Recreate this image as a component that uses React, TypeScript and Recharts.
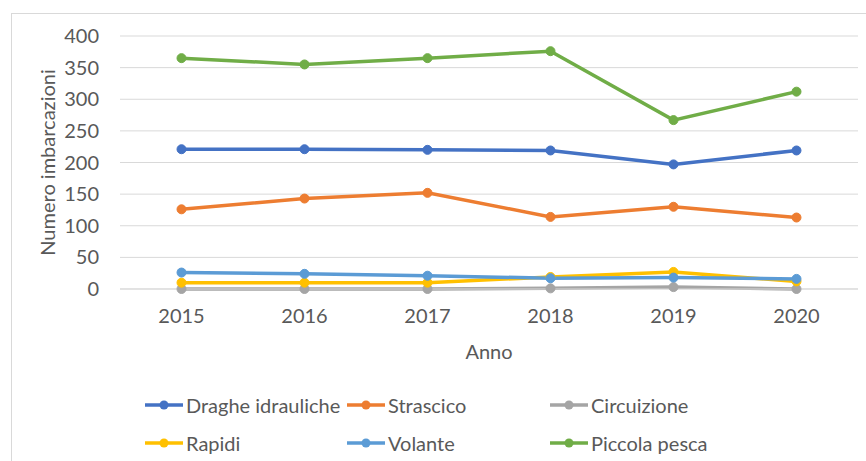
import { LineChart, Line, XAxis, YAxis, CartesianGrid } from "recharts";

const years = ["2015", "2016", "2017", "2018", "2019", "2020"];
const dragheIdrauliche = [221, 221, 220, 219, 197, 219];
const strascico = [126, 143, 152, 114, 130, 113];
const circuizione = [0, 0, 0, 1, 3, 0];
const rapidi = [10, 10, 10, 19, 27, 12];
const volante = [26, 24, 21, 17, 18, 16];
const piccolaPesca = [365, 355, 365, 376, 267, 312];
const yTicks = [0, 50, 100, 150, 200, 250, 300, 350, 400];

const series = [
  { key: "Draghe idrauliche", values: dragheIdrauliche, color: "#4472C4" },
  { key: "Strascico", values: strascico, color: "#ED7D31" },
  { key: "Circuizione", values: circuizione, color: "#A5A5A5" },
  { key: "Rapidi", values: rapidi, color: "#FFC000" },
  { key: "Volante", values: volante, color: "#5B9BD5" },
  { key: "Piccola pesca", values: piccolaPesca, color: "#70AD47" },
];

const data = years.map((year, i) => {
  const row: Record<string, string | number> = { year };
  series.forEach((s) => {
    row[s.key] = s.values[i];
  });
  return row;
});

const FONT = "Lato, 'Open Sans', sans-serif";
const TEXT = "#595959";
const FS = 20;

function LegendBox() {
  return (
    <div
      style={{
        position: "absolute",
        left: 145,
        top: 391,
        display: "grid",
        gridTemplateColumns: "202px 203px 220px",
        rowGap: 11,
        fontFamily: FONT,
        fontSize: FS,
        color: TEXT,
      }}
    >
      {series.map((s) => (
        <div key={s.key} style={{ display: "flex", alignItems: "center", height: 27 }}>
          <svg width={38} height={12} style={{ marginRight: 3 }}>
            <line x1={0} y1={6} x2={38} y2={6} stroke={s.color} strokeWidth={3.5} />
            <circle cx={19} cy={6} r={4.5} fill={s.color} />
          </svg>
          <span style={{ whiteSpace: "nowrap" }}>{s.key}</span>
        </div>
      ))}
    </div>
  );
}

export default function App() {
  return (
    <div style={{ position: "absolute", left: 0, top: 0, width: 866, height: 461, background: "#fff" }}>
      <div
        style={{
          position: "absolute",
          left: 11,
          top: 13,
          width: 855,
          height: 448,
          borderTop: "1px solid #d9d9d9",
          borderLeft: "1px solid #d9d9d9",
        }}
      />
      <LineChart
        width={866}
        height={461}
        data={data}
        margin={{ top: 36, right: 8, left: 30, bottom: 92 }}
        style={{ position: "absolute", left: 0, top: 0 }}
      >
        <CartesianGrid vertical={false} stroke="#d9d9d9" strokeWidth={1} />
        <XAxis
          dataKey="year"
          height={80}
          padding={{ left: 61.5, right: 61.5 }}
          interval={0}
          tickSize={0}
          tickMargin={20}
          axisLine={{ stroke: "#d9d9d9" }}
          tickLine={false}
          tick={{ fontSize: FS, fontFamily: FONT, fill: TEXT }}
          label={({ viewBox }: any) => (
            <text
              x={489}
              y={351}
              textAnchor="middle"
              dominantBaseline="central"
              fontSize={FS}
              fontFamily={FONT}
              fill={TEXT}
            >
              Anno
            </text>
          )}
        />
        <YAxis
          width={90}
          domain={[0, 400]}
          ticks={yTicks}
          interval={0}
          tickSize={0}
          tickMargin={21}
          axisLine={false}
          tickLine={false}
          tick={{ fontSize: FS, fontFamily: FONT, fill: TEXT }}
          label={({ viewBox }: any) => {
            const x = viewBox.x + 17;
            const y = viewBox.y + viewBox.height / 2;
            return (
              <text
                x={x}
                y={y}
                transform={`rotate(-90, ${x}, ${y})`}
                textAnchor="middle"
                dominantBaseline="central"
                fontSize={FS}
                fontFamily={FONT}
                fill={TEXT}
              >
                Numero imbarcazioni
              </text>
            );
          }}
        />
        {series.map((s) => (
          <Line
            key={s.key}
            dataKey={s.key}
            stroke={s.color}
            strokeWidth={3.5}
            dot={{ r: 4.5, fill: s.color, stroke: s.color, strokeWidth: 1 }}
            activeDot={false}
            isAnimationActive={false}
          />
        ))}
      </LineChart>
      <LegendBox />
    </div>
  );
}
